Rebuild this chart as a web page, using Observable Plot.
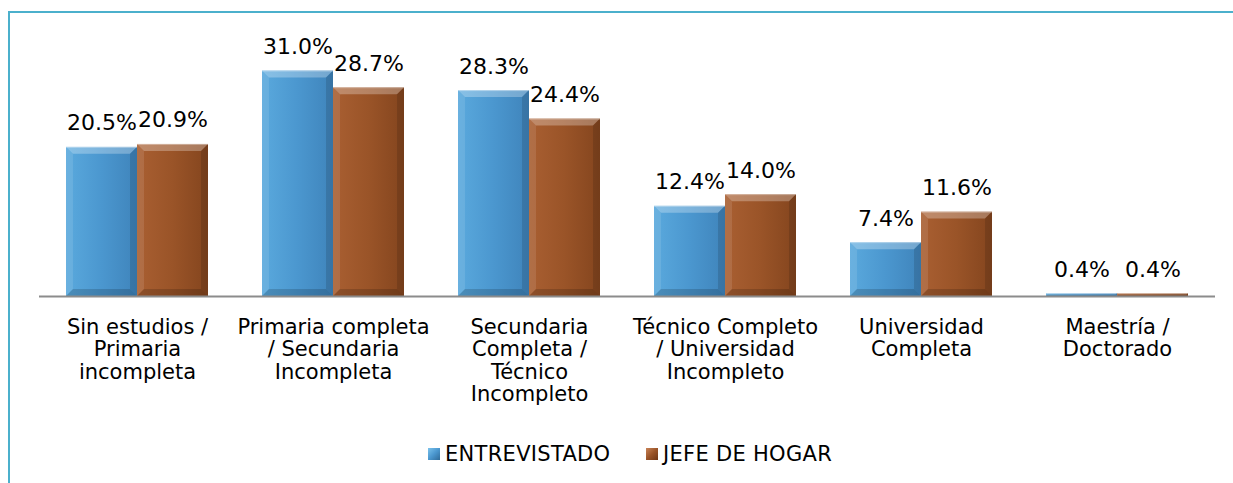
<!DOCTYPE html>
<html>
<head>
<meta charset="utf-8">
<script src="https://cdn.jsdelivr.net/npm/d3@7"></script>
<script src="https://cdn.jsdelivr.net/npm/@observablehq/plot@0.6"></script>
<style>
  html, body { margin: 0; padding: 0; background: #fff; }
  #wrap { position: relative; width: 1233px; height: 483px; overflow: hidden; font-family: "DejaVu Sans", Verdana, sans-serif; }
  #frame { position: absolute; left: 8px; top: 11px; width: 1400px; height: 600px; border-top: 2px solid #4bb0cc; border-left: 2px solid #4bb0cc; pointer-events: none; }
  #chart svg { display: block; }
  #legend { position: relative; height: 53px; font-size: 21px; letter-spacing: 0.3px; color: #000; }
  .item { position: absolute; top: 11px; display: flex; align-items: center; white-space: nowrap; line-height: 26px; }
  .sw { width: 12px; height: 12px; margin-right: 5px; }
</style>
</head>
<body>
<div id="wrap">
  <div id="chart"></div>
  <div id="legend"></div>
  <div id="frame"></div>
</div>
<script>
const categories = [
  "Sin estudios / Primaria incompleta",
  "Primaria completa / Secundaria Incompleta",
  "Secundaria Completa / Técnico Incompleto",
  "Técnico Completo / Universidad Incompleto",
  "Universidad Completa",
  "Maestría / Doctorado"
];
const tickLabels = [
  "Sin estudios /\nPrimaria\nincompleta",
  "Primaria completa\n/ Secundaria\nIncompleta",
  "Secundaria\nCompleta /\nTécnico\nIncompleto",
  "Técnico Completo\n/ Universidad\nIncompleto",
  "Universidad\nCompleta",
  "Maestría /\nDoctorado"
];
const seriesNames = ["ENTREVISTADO", "JEFE DE HOGAR"];
const entrevistado = [20.5, 31.0, 28.3, 12.4, 7.4, 0.4];
const jefeDeHogar = [20.9, 28.7, 24.4, 14.0, 11.6, 0.4];

const rows = [];
categories.forEach((c, i) => {
  rows.push({cat: c, series: seriesNames[0], value: entrevistado[i]});
  rows.push({cat: c, series: seriesNames[1], value: jefeDeHogar[i]});
});
const labelRows = categories.map((c, i) => ({cat: c, label: tickLabels[i]}));

const plot = Plot.plot({
  width: 1233,
  height: 430,
  marginLeft: 39,
  marginRight: 18,
  marginTop: 5,
  marginBottom: 134,
  style: {fontFamily: "DejaVu Sans, Verdana, sans-serif", background: "transparent", color: "#000"},
  fx: {domain: categories, padding: 0, axis: null},
  x: {domain: seriesNames, paddingInner: 0, paddingOuter: 0.38, axis: null},
  y: {domain: [0, 40], axis: null},
  marks: [
    Plot.barY(rows.filter(d => d.series === seriesNames[0]), {fx: "cat", x: "series", y: "value", fill: "url(#gE)"}),
    Plot.barY(rows.filter(d => d.series === seriesNames[1]), {fx: "cat", x: "series", y: "value", fill: "url(#gJ)"}),
    Plot.ruleY([0], {stroke: "#8c8c8c", strokeWidth: 2}),
    Plot.text(rows, {fx: "cat", x: "series", y: "value", text: d => d.value.toFixed(1) + "%", dy: -24, fontSize: 22, fill: "#000"}),
    Plot.text(labelRows, {fx: "cat", text: "label", frameAnchor: "bottom", lineAnchor: "top", dy: 21, fontSize: 21, lineHeight: 1.075, fill: "#000"})
  ]
});

// gradients
const svg = d3.select(plot);
const defs = svg.insert("defs", ":first-child");
function grad(id, stops) {
  const g = defs.append("linearGradient").attr("id", id).attr("x1", 0).attr("x2", 1).attr("y1", 0).attr("y2", 0);
  stops.forEach(([o, c]) => g.append("stop").attr("offset", o).attr("stop-color", c));
}
grad("gE", [[0, "#5aa9dd"], [0.5, "#4b97cf"], [1, "#3f84bb"]]);
grad("gJ", [[0, "#a95f32"], [0.5, "#9a5428"], [1, "#84451e"]]);

// bevel overlays derived from each drawn bar
svg.selectAll('g[aria-label="bar"] rect').each(function() {
  const r = d3.select(this);
  const x = +r.attr("x"), y = +r.attr("y"), w = +r.attr("width"), h = +r.attr("height");
  const b = Math.min(7, h / 2);
  const p = d3.select(this.parentNode);
  const poly = (pts, fill, op) => p.append("polygon").attr("points", pts.map(q => q.join(",")).join(" ")).attr("fill", fill).attr("fill-opacity", op);
  poly([[x, y], [x + w, y], [x + w - b, y + b], [x + b, y + b]], "#fff", 0.28);
  poly([[x, y], [x + b, y + b], [x + b, y + h - b], [x, y + h]], "#fff", 0.1);
  poly([[x + w, y], [x + w - b, y + b], [x + w - b, y + h - b], [x + w, y + h]], "#000", 0.12);
  poly([[x, y + h], [x + b, y + h - b], [x + w - b, y + h - b], [x + w, y + h]], "#000", 0.16);
  p.append("line").attr("x1", x).attr("x2", x + w).attr("y1", y + 0.5).attr("y2", y + 0.5).attr("stroke", "#fff").attr("stroke-opacity", 0.35);
});
svg.selectAll('g[aria-label="rule"]').raise();
svg.selectAll('g[aria-label="text"]').raise();

document.getElementById("chart").appendChild(plot);

// legend
const legend = document.getElementById("legend");
const swatches = [
  "linear-gradient(135deg, #7cc3ec, #4b97cf 50%, #2f6a98)",
  "linear-gradient(135deg, #c98458, #9a5428 50%, #6e3515)"
];
const lefts = [428, 646];
seriesNames.forEach((s, i) => {
  const it = document.createElement("div");
  it.className = "item";
  it.style.left = lefts[i] + "px";
  const sw = document.createElement("span");
  sw.className = "sw";
  sw.style.background = swatches[i];
  const t = document.createElement("span");
  t.textContent = s;
  it.appendChild(sw);
  it.appendChild(t);
  legend.appendChild(it);
});
</script>
</body>
</html>
